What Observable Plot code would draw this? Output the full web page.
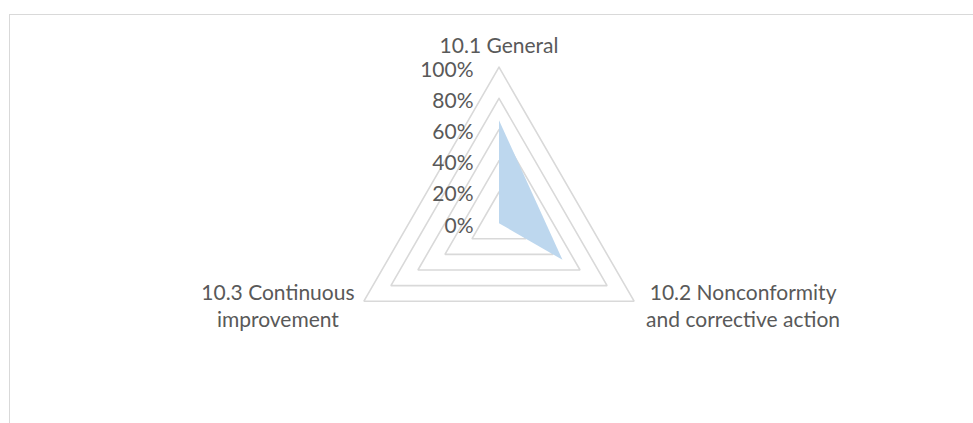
<!DOCTYPE html>
<html>
<head>
<meta charset="utf-8">
<script src="https://cdn.jsdelivr.net/npm/d3@7"></script>
<script src="https://cdn.jsdelivr.net/npm/@observablehq/plot@0.6"></script>
<style>
  html, body { margin: 0; padding: 0; background: #ffffff; }
  #wrap { position: relative; width: 973px; height: 423px; overflow: hidden; }
  #border { position: absolute; left: 9px; top: 14px; width: 2000px; height: 2000px;
            border-left: 1px solid #d9d9d9; border-top: 1px solid #d9d9d9; box-sizing: border-box; }
  #chart { position: absolute; left: 0; top: 0; }
</style>
</head>
<body>
<div id="wrap"><div id="border"></div><div id="chart"></div></div>
<script>
// ---- data ----
const categories = ["10.1 General", "10.2 Nonconformity\nand corrective action", "10.3 Continuous\nimprovement"];
const values = [0.66, 0.47, 0];
const gridLevels = [0.2, 0.4, 0.6, 0.8, 1.0];
const tickValues = [0, 0.2, 0.4, 0.6, 0.8, 1.0];
const tickLabels = ["0%", "20%", "40%", "60%", "80%", "100%"];

// ---- layout ----
const W = 973, H = 423;
const cx = 498.5, cy = 222.7, R = 156;
const n = categories.length;
const ang = i => i * 2 * Math.PI / n;
const px = (r, i) => r * Math.sin(ang(i));
const py = (r, i) => r * Math.cos(ang(i));

const gridPts = gridLevels.flatMap(l =>
  d3.range(n + 1).map(k => ({level: l, x: px(l, k % n), y: py(l, k % n)})));
const areaPts = values.map((v, i) => ({x: px(v, i), y: py(v, i)}));
const ticks = tickValues.map((v, i) => ({x: 0, y: v, label: tickLabels[i]}));
const labels = categories.map((c, i) => ({x: px(1, i), y: py(1, i), label: c, i}));

const font = "Lato, 'Open Sans', sans-serif";
const textColor = "#595959";
const fs = 21;

const chart = Plot.plot({
  width: W, height: H,
  margin: 0,
  style: {fontFamily: font, background: "transparent", overflow: "visible"},
  x: {type: "linear", domain: [(0 - cx) / R, (W - cx) / R], axis: null},
  y: {type: "linear", domain: [(cy - H) / R, cy / R], axis: null},
  marks: [
    Plot.line(gridPts, {x: "x", y: "y", z: "level", stroke: "#d9d9d9", strokeWidth: 1.6, strokeLinejoin: "miter"}),
    Plot.line(areaPts, {x: "x", y: "y", fill: "#bdd7ee", stroke: "none", curve: "linear-closed"}),
    Plot.text(ticks, {x: "x", y: "y", text: "label", textAnchor: "end", lineAnchor: "middle",
      dx: -25.5, dy: 2.6, fontSize: fs, fill: textColor}),
    Plot.text(labels.filter(d => d.i === 0), {x: "x", y: "y", text: "label", textAnchor: "middle", lineAnchor: "middle",
      dy: -21.4, fontSize: fs, fill: textColor}),
    Plot.text(labels.filter(d => d.i === 1), {x: "x", y: "y", text: "label", textAnchor: "middle", lineAnchor: "middle",
      dx: 109, dy: 4.1, fontSize: fs, lineHeight: 1.286, fill: textColor}),
    Plot.text(labels.filter(d => d.i === 2), {x: "x", y: "y", text: "label", textAnchor: "middle", lineAnchor: "middle",
      dx: -86, dy: 4.1, fontSize: fs, lineHeight: 1.286, fill: textColor})
  ]
});
document.getElementById("chart").appendChild(chart);
</script>
</body>
</html>
